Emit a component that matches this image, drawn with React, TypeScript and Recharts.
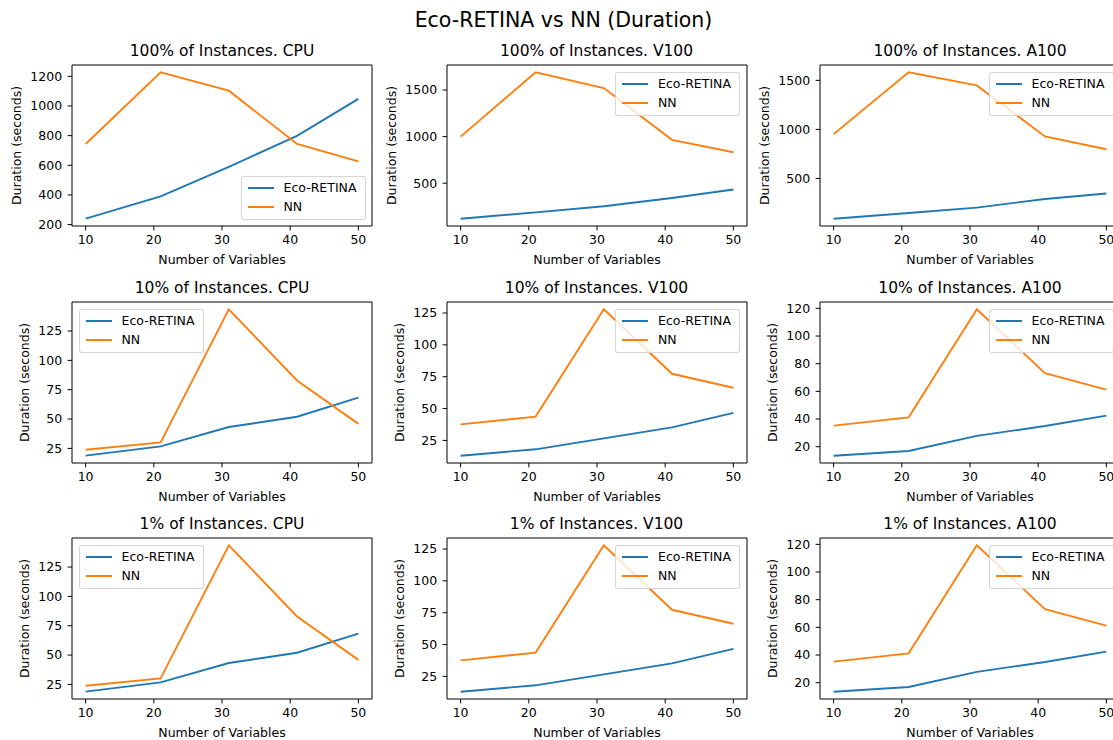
import React from 'react';
import { LineChart, Line, XAxis, YAxis, ReferenceArea, Legend } from 'recharts';

// x positions (number of variables) and shared ticks
const X_VALUES = [10, 21, 31, 41, 50];
const X_TICKS = [10, 20, 30, 40, 50];

// 100% of instances
const ecoCpu100 = [240, 390, 590, 798, 1048];
const nnCpu100 = [744, 1227, 1103, 744, 626];
const ecoV100_100 = [119, 187, 252, 341, 432];
const nnV100_100 = [1000, 1690, 1521, 965, 832];
const ecoA100_100 = [90, 148, 203, 291, 346];
const nnA100_100 = [952, 1582, 1449, 928, 798];

// 10% of instances
const ecoCpu10 = [18.8, 26.7, 43.2, 52, 68.2];
const nnCpu10 = [23.9, 30.1, 143.5, 82.9, 45.9];
const ecoV100_10 = [13, 18, 26.6, 35.2, 46.6];
const nnV100_10 = [37.6, 43.7, 127.9, 77.3, 66.3];
const ecoA100_10 = [13.5, 16.9, 27.8, 35, 42.5];
const nnA100_10 = [35.2, 41.2, 119.3, 73.1, 61.3];

// 1% of instances
const ecoCpu1 = [18.8, 26.7, 43.2, 52, 68.2];
const nnCpu1 = [23.9, 30.1, 143.5, 82.9, 45.9];
const ecoV100_1 = [13, 18, 26.6, 35.2, 46.6];
const nnV100_1 = [37.6, 43.7, 127.9, 77.3, 66.3];
const ecoA100_1 = [13.5, 16.9, 27.8, 35, 42.5];
const nnA100_1 = [35.2, 41.2, 119.3, 73.1, 61.3];

// y tick labels
const yTicksCpu100 = [200, 400, 600, 800, 1000, 1200];
const yTicksGpu100 = [500, 1000, 1500];
const yTicksCpuV100Small = [25, 50, 75, 100, 125];
const yTicksA100Small = [20, 40, 60, 80, 100, 120];

const FONT = '"DejaVu Sans", "Liberation Sans", sans-serif';
const BLUE = '#1f77b4';
const ORANGE = '#ff7f0e';

type LegendLoc = 'upper right' | 'lower right' | 'upper left';

type PanelDef = {
  title: string;
  eco: number[];
  nn: number[];
  yTicks: number[];
  legend: LegendLoc;
};

const panels: PanelDef[] = [
  { title: '100% of Instances. CPU', eco: ecoCpu100, nn: nnCpu100, yTicks: yTicksCpu100, legend: 'lower right' },
  { title: '100% of Instances. V100', eco: ecoV100_100, nn: nnV100_100, yTicks: yTicksGpu100, legend: 'upper right' },
  { title: '100% of Instances. A100', eco: ecoA100_100, nn: nnA100_100, yTicks: yTicksGpu100, legend: 'upper right' },
  { title: '10% of Instances. CPU', eco: ecoCpu10, nn: nnCpu10, yTicks: yTicksCpuV100Small, legend: 'upper left' },
  { title: '10% of Instances. V100', eco: ecoV100_10, nn: nnV100_10, yTicks: yTicksCpuV100Small, legend: 'upper right' },
  { title: '10% of Instances. A100', eco: ecoA100_10, nn: nnA100_10, yTicks: yTicksA100Small, legend: 'upper right' },
  { title: '1% of Instances. CPU', eco: ecoCpu1, nn: nnCpu1, yTicks: yTicksCpuV100Small, legend: 'upper left' },
  { title: '1% of Instances. V100', eco: ecoV100_1, nn: nnV100_1, yTicks: yTicksCpuV100Small, legend: 'upper right' },
  { title: '1% of Instances. A100', eco: ecoA100_1, nn: nnA100_1, yTicks: yTicksA100Small, legend: 'upper right' },
];

// layout
const COL_LEFT = [72, 446.5, 820];
const ROW_TOP = [65, 302, 538];
const PLOT_W = 300;
const PLOT_H = 161;
const Y_AXIS_W = 72;
const X_AXIS_H = 45;
const M_TOP = 5;
const M_RIGHT = 10;
const CHART_W = Y_AXIS_W + PLOT_W + M_RIGHT;
const CHART_H = M_TOP + PLOT_H + X_AXIS_H;

const tickStyle = { fill: '#000', fontSize: 12.5, fontFamily: FONT };

type LegendItem = { value?: string; color?: string };

const LegendBox = ({ payload }: { payload?: LegendItem[] }) => (
  <div
    style={{
      background: 'rgba(255,255,255,0.8)',
      border: '1px solid rgba(204,204,204,0.8)',
      borderRadius: 3,
      padding: '1.5px 0',
      width: 125,
      boxSizing: 'border-box',
      fontFamily: FONT,
      fontSize: 12.5,
      color: '#000',
    }}
  >
    {(payload ?? []).map((item) => (
      <div key={item.value} style={{ display: 'flex', alignItems: 'center', height: 19.5 }}>
        <div style={{ width: 26, height: 1.9, background: item.color, marginLeft: 6, marginRight: 10 }} />
        <span style={{ lineHeight: 1 }}>{item.value}</span>
      </div>
    ))}
  </div>
);

const legendPos = (loc: LegendLoc): React.CSSProperties => {
  const gap = 6.5;
  if (loc === 'lower right') return { bottom: X_AXIS_H + gap, right: M_RIGHT + gap, width: 125 };
  if (loc === 'upper left') return { top: M_TOP + gap, left: Y_AXIS_W + gap, width: 125 };
  return { top: M_TOP + gap, right: M_RIGHT + gap, width: 125 };
};

const Panel = ({ panel, row, col }: { panel: PanelDef; row: number; col: number }) => {
  const data = X_VALUES.map((x, i) => ({ x, eco: panel.eco[i], nn: panel.nn[i] }));
  const all = [...panel.eco, ...panel.nn];
  const lo = Math.min(...all);
  const hi = Math.max(...all);
  const pad = (hi - lo) * 0.05;
  const yDomain: [number, number] = [lo - pad, hi + pad];
  const maxDigits = Math.max(...panel.yTicks.map((t) => String(t).length));
  const yLabelX = Y_AXIS_W - (24 + maxDigits * 7.95);
  const yLabelY = M_TOP + PLOT_H / 2;

  const left = COL_LEFT[col];
  const top = ROW_TOP[row];

  return (
    <>
      <div
        style={{
          position: 'absolute',
          left,
          top: top - 21.4,
          width: PLOT_W,
          textAlign: 'center',
          fontFamily: FONT,
          fontSize: 15.5,
          lineHeight: 1,
          color: '#000',
          whiteSpace: 'nowrap',
        }}
      >
        {panel.title}
      </div>
      <div style={{ position: 'absolute', left: left - Y_AXIS_W, top: top - M_TOP }}>
        <LineChart width={CHART_W} height={CHART_H} data={data} margin={{ top: M_TOP, right: M_RIGHT, left: 0, bottom: 0 }}>
          <XAxis
            dataKey="x"
            type="number"
            domain={[8, 52]}
            ticks={X_TICKS}
            allowDataOverflow
            axisLine={false}
            tickLine={{ stroke: '#000' }}
            tickSize={4.4}
            tickMargin={5}
            height={X_AXIS_H}
            tick={tickStyle}
            label={{
              content: () => (
                <text x={Y_AXIS_W + PLOT_W / 2} y={M_TOP + PLOT_H + 38} textAnchor="middle" fill="#000" fontSize={12.5} fontFamily={FONT}>
                  Number of Variables
                </text>
              ),
            }}
          />
          <YAxis
            type="number"
            domain={yDomain}
            ticks={panel.yTicks}
            allowDataOverflow
            axisLine={false}
            tickLine={{ stroke: '#000' }}
            tickSize={4.4}
            tickMargin={5.5}
            width={Y_AXIS_W}
            tick={tickStyle}
            label={{
              content: () => (
                <text
                  x={yLabelX}
                  y={yLabelY}
                  transform={`rotate(-90 ${yLabelX} ${yLabelY})`}
                  textAnchor="middle"
                  dominantBaseline="central"
                  fill="#000"
                  fontSize={12.5}
                  fontFamily={FONT}
                >
                  Duration (seconds)
                </text>
              ),
            }}
          />
          <Line dataKey="eco" name="Eco-RETINA" type="linear" stroke={BLUE} strokeWidth={1.9} dot={false} activeDot={false} isAnimationActive={false} />
          <Line dataKey="nn" name="NN" type="linear" stroke={ORANGE} strokeWidth={1.9} dot={false} activeDot={false} isAnimationActive={false} />
          <ReferenceArea x1={8} x2={52} y1={yDomain[0]} y2={yDomain[1]} fill="none" stroke="#000" strokeWidth={1} ifOverflow="visible" />
          <Legend
            layout="vertical"
            align="center"
            verticalAlign="middle"
            wrapperStyle={legendPos(panel.legend)}
            content={<LegendBox />}
          />
        </LineChart>
      </div>
    </>
  );
};

export default function App() {
  return (
    <div
      style={{
        position: 'absolute',
        left: 0,
        top: 0,
        width: 1113,
        height: 740,
        overflow: 'hidden',
        background: '#fff',
      }}
    >
      <div
        style={{
          position: 'absolute',
          left: 0,
          top: 10,
          width: 1127,
          textAlign: 'center',
          fontFamily: FONT,
          fontSize: 20.5,
          lineHeight: 1,
          color: '#000',
        }}
      >
        Eco-RETINA vs NN (Duration)
      </div>
      {panels.map((p, i) => (
        <Panel key={p.title} panel={p} row={Math.floor(i / 3)} col={i % 3} />
      ))}
    </div>
  );
}
